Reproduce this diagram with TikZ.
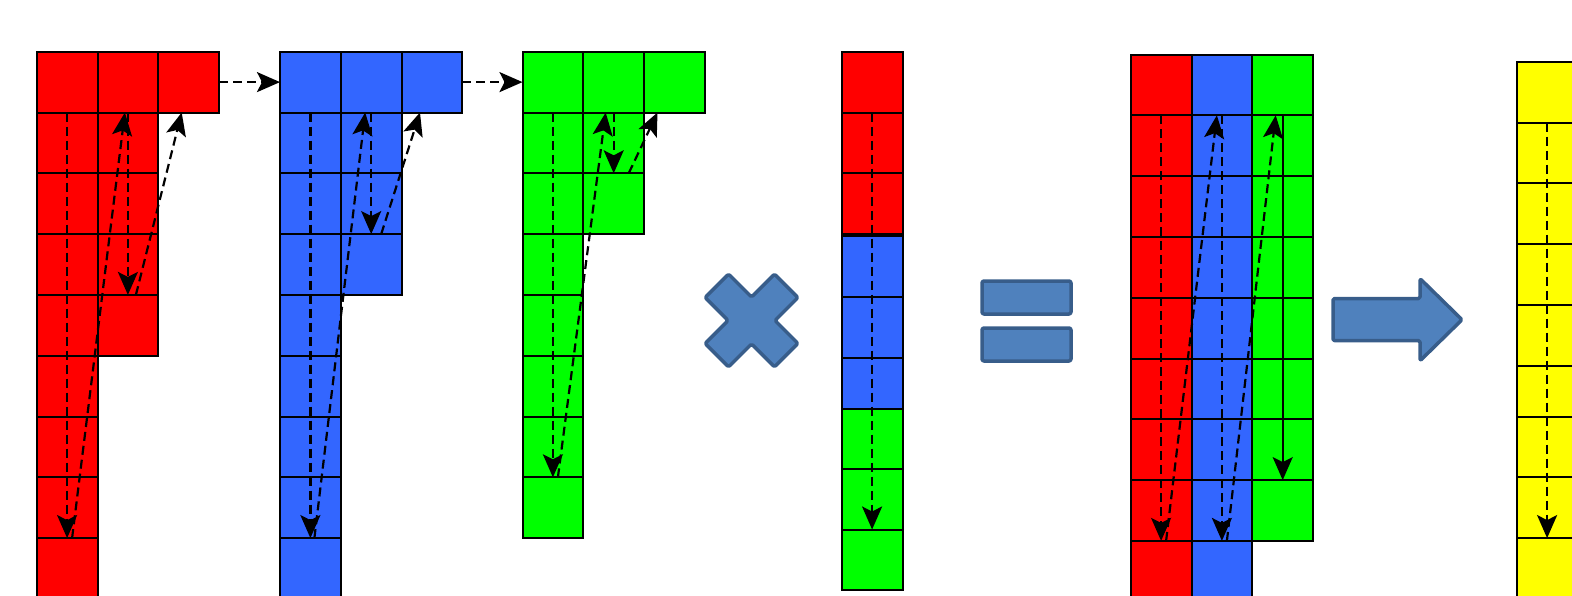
\documentclass[tikz,border=0pt]{standalone}
\usetikzlibrary{arrows.meta}
\definecolor{cred}{HTML}{FF0000}
\definecolor{cblue}{HTML}{3366FF}
\definecolor{cgreen}{HTML}{00FF00}
\definecolor{cyellow}{HTML}{FFFF00}
\definecolor{shfill}{HTML}{4F81BD}
\definecolor{shdraw}{HTML}{385D8A}
\tikzset{
  cell/.style={draw=black,line width=2pt,rectangle,inner sep=0pt,outer sep=0pt,minimum width=60.8pt,minimum height=60.8pt},
  tipx/.style={-{Stealth[length=23pt,width=20pt,inset=5pt]}},
  dar/.style={tipx,line width=2.2pt,dash pattern=on 9pt off 5pt},
  sar/.style={tipx,line width=2.2pt},
  opshape/.style={fill=shfill,draw=shdraw,line width=3.5pt,line join=round}
}
% grid cell: name, colour, x0, y0, column, row
\newcommand{\gcell}[6]{\node[cell,fill=#2] (#1) at ({#3+(#5+0.5)*60.8},{#4+(#6+0.5)*60.8}) {};}
% free cell: name, colour, xleft, ytop, ybottom
\newcommand{\fcell}[5]{\node[cell,fill=#2,minimum height={(#5-#4)*1pt}] (#1) at ({#3+30.4},{(#4+#5)/2}) {};}
\begin{document}
\begin{tikzpicture}[x=1pt,y=-1pt]
\useasboundingbox (0,0) rectangle (1572,595);
\clip (0,0) rectangle (1572,595);
% ---- red factor
\foreach \j in {0,...,8} {\gcell{r0\j}{cred}{36.7}{51.7}{0}{\j}}
\foreach \j in {0,...,4} {\gcell{r1\j}{cred}{36.7}{51.7}{1}{\j}}
\gcell{r20}{cred}{36.7}{51.7}{2}{0}
% ---- blue factor
\foreach \j in {0,...,8} {\gcell{b0\j}{cblue}{280}{51.7}{0}{\j}}
\foreach \j in {0,...,3} {\gcell{b1\j}{cblue}{280}{51.7}{1}{\j}}
\gcell{b20}{cblue}{280}{51.7}{2}{0}
% ---- green factor
\foreach \j in {0,...,7} {\gcell{g0\j}{cgreen}{522.5}{51.7}{0}{\j}}
\foreach \j in {0,...,2} {\gcell{g1\j}{cgreen}{522.5}{51.7}{1}{\j}}
\gcell{g20}{cgreen}{522.5}{51.7}{2}{0}
% ---- vector
\fcell{v0}{cred}{841.7}{51.7}{112.5}
\fcell{v1}{cred}{841.7}{112.5}{173.3}
\fcell{v2}{cred}{841.7}{173.3}{234.1}
\fcell{v3}{cblue}{841.7}{235.5}{296.5}
\fcell{v4}{cblue}{841.7}{296.5}{357.5}
\fcell{v5}{cblue}{841.7}{357.5}{409}
\fcell{v6}{cgreen}{841.7}{409}{469}
\fcell{v7}{cgreen}{841.7}{469}{529.5}
\fcell{v8}{cgreen}{841.7}{529.5}{590}
% ---- result matrix
\foreach \j in {0,...,8} {\gcell{R\j}{cred}{1130.7}{54.5}{0}{\j}}
\foreach \j in {0,...,8} {\gcell{B\j}{cblue}{1130.7}{54.5}{1}{\j}}
\foreach \j in {0,...,7} {\gcell{G\j}{cgreen}{1130.7}{54.5}{2}{\j}}
% ---- yellow result
\fcell{y0}{cyellow}{1516.7}{61.7}{122.5}
\fcell{y1}{cyellow}{1516.7}{122.5}{183.3}
\fcell{y2}{cyellow}{1516.7}{183.3}{244.1}
\fcell{y3}{cyellow}{1516.7}{244.1}{304.9}
\fcell{y4}{cyellow}{1516.7}{304.9}{365.7}
\fcell{y5}{cyellow}{1516.7}{365.7}{416.5}
\fcell{y6}{cyellow}{1516.7}{416.5}{477.3}
\fcell{y7}{cyellow}{1516.7}{477.3}{538.1}
\fcell{y8}{cyellow}{1516.7}{538.1}{598.9}
% ---- arrows: red
\draw[dar] (r01.north) -- (r07.south);
\draw[dar] ([xshift=5pt]r07.south) -- ([xshift=-3pt]r11.north);
\draw[dar] (r11.north) -- (r13.south);
\draw[dar] ([xshift=8pt]r13.south) -- ([xshift=-7pt]r20.south);
\draw[dar] (r20.east) -- (b00.west);
% blue
\draw[dar] (b01.north) -- (b07.south);
\draw[dar] ([xshift=4pt]b07.south) -- ([xshift=-6pt]b11.north);
\draw[dar] (b11.north) -- (b12.south);
\draw[dar] ([xshift=10pt]b12.south) -- ([xshift=-12pt]b20.south);
\draw[dar] (b20.east) -- (g00.west);
% green
\draw[dar] (g01.north) -- (g06.south);
\draw[dar] ([xshift=5pt]g06.south) -- ([xshift=-8pt]g11.north);
\draw[dar] (g11.north) -- (g11.south);
\draw[dar] ([xshift=15pt]g11.south) -- ([xshift=-17pt]g20.south);
% vector
\draw[dar] (v1.north) -- (v7.south);
% result
\draw[dar] (R1.north) -- (R7.south);
\draw[dar] ([xshift=5pt]R7.south) -- ([xshift=-5pt]B1.north);
\draw[dar] (B1.north) -- (B7.south);
\draw[dar] ([xshift=5pt]B7.south) -- ([xshift=-7pt]G1.north);
\draw[sar] (G1.north) -- (G6.south);
% yellow
\draw[dar] (y1.north) -- (y7.south);
% ---- operator shapes
\begin{scope}[shift={(751.5,320.5)},rotate=45]
\draw[opshape,rounded corners=1.5pt] (49,16.6) -- (16.6,16.6) -- (16.6,49) -- (-16.6,49) -- (-16.6,16.6) -- (-49,16.6) -- (-49,-16.6) -- (-16.6,-16.6) -- (-16.6,-49) -- (16.6,-49) -- (16.6,-16.6) -- (49,-16.6) -- cycle;
\end{scope}
\draw[opshape,rounded corners=2pt] (982,281) rectangle (1071,314);
\draw[opshape,rounded corners=2pt] (982,328) rectangle (1071,361);
\draw[opshape,rounded corners=1.5pt] (1333,298.5) -- (1420,298.5) -- (1420,278.6) -- (1462,319.7) -- (1420,360.8) -- (1420,340.6) -- (1333,340.6) -- cycle;
\end{tikzpicture}
\end{document}
